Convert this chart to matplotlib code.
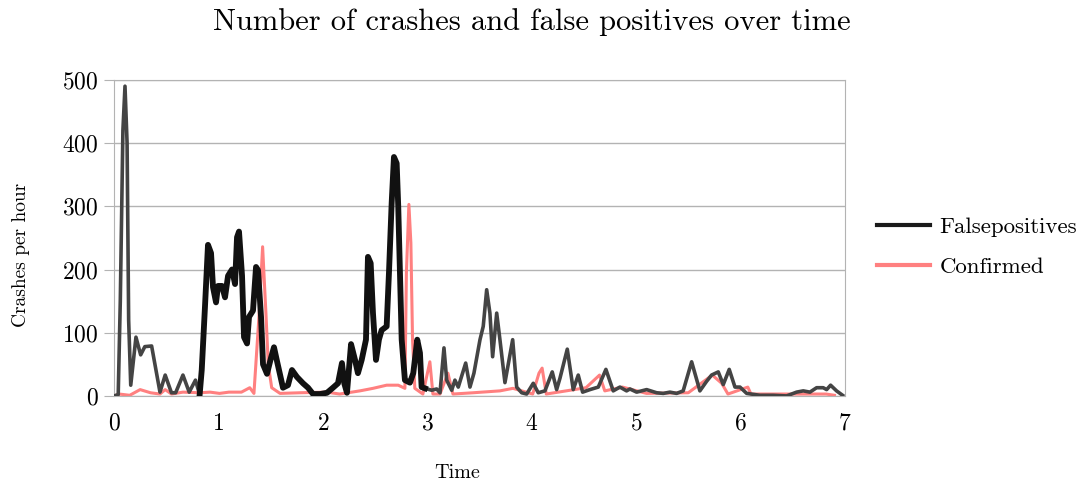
import numpy as np
import matplotlib
matplotlib.use("Agg")
import matplotlib.pyplot as plt
from matplotlib.lines import Line2D

plt.rcParams["font.family"] = ["cmr10", "DejaVu Serif"]
plt.rcParams["axes.formatter.use_mathtext"] = True
plt.rcParams["mathtext.fontset"] = "cm"

# False positives (time, crashes per hour)
fp_time = [0.00, 0.04, 0.06, 0.085, 0.105, 0.125, 0.14, 0.16, 0.21, 0.255, 0.295, 0.36,
           0.44, 0.49, 0.55, 0.59, 0.66, 0.72, 0.78, 0.82, 0.84, 0.871, 0.90, 0.929,
           0.948, 0.977, 0.996, 1.034, 1.063, 1.092, 1.130, 1.159, 1.178, 1.197, 1.226,
           1.245, 1.274, 1.293, 1.331, 1.360, 1.379, 1.408, 1.427, 1.465, 1.503, 1.532,
           1.561, 1.618, 1.666, 1.704, 1.752, 1.810, 1.858, 1.906, 1.973, 2.040, 2.097,
           2.145, 2.183, 2.205, 2.231, 2.27, 2.308, 2.336, 2.372, 2.413, 2.432, 2.458,
           2.480, 2.509, 2.537, 2.563, 2.611, 2.633, 2.659, 2.681, 2.707, 2.722, 2.739,
           2.755, 2.786, 2.834, 2.866, 2.904, 2.930, 2.946, 2.978, 3.042, 3.090, 3.122,
           3.160, 3.186, 3.234, 3.265, 3.297, 3.368, 3.409, 3.447, 3.505, 3.536, 3.569,
           3.600, 3.626, 3.665, 3.696, 3.744, 3.818, 3.856, 3.904, 3.952, 4.015, 4.063,
           4.127, 4.197, 4.239, 4.271, 4.341, 4.398, 4.446, 4.488, 4.558, 4.638, 4.711,
           4.781, 4.845, 4.909, 4.941, 5.005, 5.101, 5.197, 5.260, 5.324, 5.388, 5.451,
           5.532, 5.611, 5.675, 5.723, 5.787, 5.835, 5.892, 5.947, 5.995, 6.059, 6.186,
           6.313, 6.442, 6.537, 6.601, 6.665, 6.729, 6.792, 6.825, 6.863, 6.920, 6.978]
fp_vals = [0, 2, 150, 420, 490, 400, 120, 17, 93, 65, 78, 79,
           6, 33, 5, 5, 33, 6, 25, 2, 41, 141, 239, 226,
           172, 148, 174, 174, 156, 190, 200, 177, 251, 260, 190,
           93, 83, 125, 135, 204, 199, 125, 50, 35, 60, 77,
           55, 13, 17, 41, 30, 20, 13, 3, 3, 5, 13,
           20, 52, 20, 5, 82, 57, 36, 57, 89, 220, 210,
           131, 57, 89, 104, 110, 194, 305, 378, 368, 300, 194,
           89, 25, 21, 36, 89, 68, 14, 12, 9, 11, 5,
           76, 25, 9, 25, 14, 52, 14, 36, 89, 110, 168,
           131, 62, 131, 89, 21, 89, 14, 5, 3, 20, 5,
           8, 38, 10, 28, 74, 10, 33, 6, 10, 14, 42,
           8, 14, 8, 11, 6, 10, 5, 4, 6, 4, 8,
           54, 8, 23, 33, 38, 18, 42, 14, 14, 4, 1,
           1, 0, 6, 8, 6, 13, 13, 10, 17, 8, 1]

# Confirmed crashes
cf_time = [0.00, 0.05, 0.15, 0.25, 0.35, 0.44, 0.49, 0.55, 0.66, 0.82, 0.92, 1.01,
           1.10, 1.22, 1.30, 1.34, 1.39, 1.423, 1.455, 1.477, 1.51, 1.59, 1.78, 2.04,
           2.16, 2.355, 2.48, 2.611, 2.722, 2.786, 2.80, 2.824, 2.843, 2.859, 2.881,
           2.958, 3.025, 3.054, 3.122, 3.198, 3.246, 3.438, 3.696, 3.82, 4.01, 4.07,
           4.10, 4.14, 4.52, 4.65, 4.70, 4.87, 5.10, 5.50, 5.73, 5.82, 5.88, 6.07,
           6.10, 6.30, 6.60, 6.82, 6.90]
cf_vals = [0, 3, 1, 10, 5, 3, 10, 3, 6, 5, 6, 4,
           6, 6, 13, 4, 130, 236, 130, 50, 13, 4, 5, 6,
           3, 8, 12, 17, 17, 12, 194, 303, 242, 89, 12,
           3, 54, 3, 3, 36, 3, 5, 8, 12, 3, 36,
           44, 3, 13, 33, 8, 14, 4, 5, 33, 20, 3, 14,
           3, 3, 3, 3, 1]

fp_time = np.array(fp_time)
fp_vals = np.array(fp_vals, dtype=float)
heavy = np.where((fp_time >= 0.82) & (fp_time <= 2.98), fp_vals, np.nan)

fig = plt.figure(figsize=(10.86, 4.87), dpi=100)
ax = fig.add_axes([0.105, 0.187, 0.673, 0.649])

ax.plot(cf_time, cf_vals, color="#ff8080", lw=2.2, solid_joinstyle="round", zorder=2)
ax.plot(fp_time, fp_vals, color="#444444", lw=2.6, solid_joinstyle="round", zorder=3)
ax.plot(fp_time, heavy, color="#111111", lw=4.2, solid_joinstyle="round", zorder=4)

ax.set_xlim(0, 7)
ax.set_ylim(0, 500)
ax.set_xticks(range(0, 8))
ax.set_yticks(range(0, 501, 100))
ax.yaxis.grid(True, color="#b3b3b3", lw=1)
ax.set_axisbelow(True)
for s in ax.spines.values():
    s.set_color("#b3b3b3")
ax.tick_params(axis="y", length=7, color="#b3b3b3", labelsize=17, pad=4)
ax.tick_params(axis="x", length=0, labelsize=17, pad=12)

ax.set_title("Number of crashes and false positives over time", fontsize=22,
             pad=36, x=0.572)
ax.set_xlabel("Time", fontsize=14.5)
ax.xaxis.set_label_coords(0.469, -0.215)
ax.set_ylabel("Crashes per hour", fontsize=14)
ax.yaxis.set_label_coords(-0.115, 0.446)

handles = [Line2D([], [], color="#1a1a1a", lw=3), Line2D([], [], color="#ff8080", lw=3)]
fig.legend(handles, ["Falsepositives", "Confirmed"], loc="center left",
           bbox_to_anchor=(0.808, 0.493), frameon=False, fontsize=16.5,
           handlelength=2.3, handletextpad=0.4, labelspacing=0.9,
           borderpad=0, borderaxespad=0)

fig.savefig("out.png", dpi=100)
